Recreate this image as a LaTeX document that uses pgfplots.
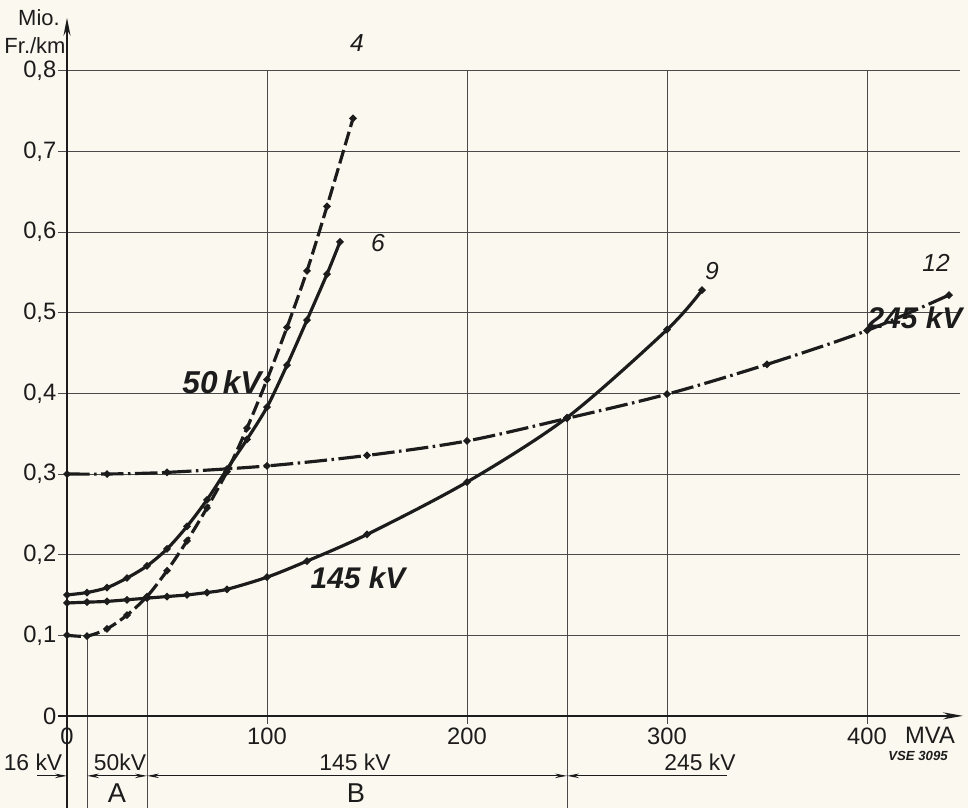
\documentclass[border=0pt]{standalone}
\usepackage{fontspec}
\setmainfont{Liberation Sans}
\usepackage{pgfplots}
\pgfplotsset{compat=1.18}
\usetikzlibrary{arrows.meta}
\definecolor{paper}{HTML}{FBF8EF}
\definecolor{ink}{HTML}{1C1C1C}
\definecolor{gridc}{HTML}{4A4A4A}

\begin{document}
\begin{tikzpicture}
\begin{axis}[
  x=0.04cm, y=16.12cm,
  xmin=-33.5, xmax=450.5, ymin=-0.114, ymax=0.888,
  axis lines=middle, axis line style={draw=none},
  major tick length=0pt,
  xtick={0,100,200,300,400}, xticklabels={0,100,200,300,400},
  ytick={0,0.1,0.2,0.3,0.4,0.5,0.6,0.7,0.8},
  yticklabels={0,{0,1},{0,2},{0,3},{0,4},{0,5},{0,6},{0,7},{0,8}},
  hide obscured x ticks=false, hide obscured y ticks=false,
  tick label style={font=\fontsize{13.5}{15}\selectfont, text=ink},
  xticklabel style={yshift=-1.1mm},
  yticklabel style={xshift=-0.9mm},
  axis background/.style={fill=paper},
  clip=false,
]
% grid
\draw[gridc, line width=0.55pt]
  (-4.5,0.1)--(446.5,0.1) (-4.5,0.2)--(446.5,0.2) (-4.5,0.3)--(446.5,0.3)
  (-4.5,0.4)--(446.5,0.4) (-4.5,0.5)--(446.5,0.5) (-4.5,0.6)--(446.5,0.6)
  (-4.5,0.7)--(446.5,0.7) (-4.5,0.8)--(446.5,0.8)
  (100,-0.01)--(100,0.8) (200,-0.01)--(200,0.8) (300,-0.01)--(300,0.8) (400,-0.01)--(400,0.8)
  (10,-0.114)--(10,0.1) (40,-0.114)--(40,0.144) (250,-0.114)--(250,0.369);
% axes
\draw[ink, line width=1.1pt, -{Stealth[length=3.6mm,width=1.4mm]}] (0,-0.114) -- (0,0.866);
\draw[ink, line width=1.1pt, -{Stealth[length=4mm,width=1.4mm]}] (-4.5,0) -- (448,0);

% 50 kV, curve 4
\addplot[ink, line width=1.8pt, smooth, dash pattern=on 2.8mm off 1mm,
  mark=*, mark size=1pt, mark options={solid}] coordinates {
  (0,0.100) (10,0.099) (20,0.108) (30,0.125) (40,0.148) (50,0.180) (60,0.217)
  (70,0.258) (80,0.303) (90,0.357) (100,0.417) (110,0.482) (120,0.552)
  (130,0.632) (143,0.741)};
% 50 kV, curve 6
\addplot[ink, line width=1.8pt, smooth, mark=*, mark size=1pt] coordinates {
  (0,0.150) (10,0.153) (20,0.159) (30,0.171) (40,0.186) (50,0.207) (60,0.235)
  (70,0.268) (80,0.306) (90,0.343) (100,0.383) (110,0.435) (120,0.491)
  (130,0.548) (136.5,0.588)};
% 145 kV, curve 9
\addplot[ink, line width=1.8pt, smooth, mark=*, mark size=1pt] coordinates {
  (0,0.140) (10,0.141) (20,0.142) (30,0.144) (40,0.146) (50,0.148) (60,0.150)
  (70,0.153) (80,0.157) (100,0.172) (120,0.192) (150,0.225) (200,0.290)
  (250,0.370) (300,0.479) (317.5,0.528)};
% 245 kV, curve 12
\addplot[ink, line width=1.8pt, smooth,
  dash pattern=on 4.5mm off 0.9mm on 0.5mm off 0.9mm,
  mark=*, mark size=1pt, mark options={solid}] coordinates {
  (0,0.300) (20,0.300) (50,0.302) (100,0.310) (150,0.323) (200,0.341)
  (250,0.369) (300,0.399) (350,0.436) (400,0.478) (441,0.522)};

% curve labels
\node[ink, font=\fontsize{18}{21}\selectfont\bfseries\itshape] at (77.5,0.414) {50\,kV};
\node[ink, font=\fontsize{17}{20}\selectfont\bfseries\itshape] at (145.5,0.171) {145 kV};
\node[ink, font=\fontsize{17}{20}\selectfont\bfseries\itshape] at (424,0.494) {245 kV};
\node[ink, font=\fontsize{14}{16}\selectfont\itshape] at (145,0.834) {4};
\node[ink, font=\fontsize{14}{16}\selectfont\itshape] at (155.5,0.587) {6};
\node[ink, font=\fontsize{14}{16}\selectfont\itshape] at (322.5,0.552) {9};
\node[ink, font=\fontsize{14}{16}\selectfont\itshape] at (434.5,0.562) {12};

% axis titles
\node[ink, font=\fontsize{12.5}{14}\selectfont] at (-14,0.866) {Mio.};
\node[ink, font=\fontsize{12.5}{14}\selectfont] at (-16,0.831) {Fr./km};
\node[ink, font=\fontsize{13.5}{15}\selectfont] at (431.5,-0.0236) {MVA};
\node[ink, font=\fontsize{7.5}{9}\selectfont\bfseries\itshape] at (425.5,-0.05) {VSE 3095};

% ranges below the axis
\draw[ink, line width=0.6pt, -{Stealth[length=2.4mm,width=0.9mm]}] (-15,-0.0744) -- (0,-0.0744);
\draw[ink, line width=0.6pt, {Stealth[length=2.4mm,width=0.9mm]}-{Stealth[length=2.4mm,width=0.9mm]}] (10,-0.0744) -- (40,-0.0744);
\draw[ink, line width=0.6pt, {Stealth[length=2.4mm,width=0.9mm]}-{Stealth[length=2.4mm,width=0.9mm]}] (40,-0.0744) -- (250,-0.0744);
\draw[ink, line width=0.6pt, {Stealth[length=2.4mm,width=0.9mm]}-] (250,-0.0744) -- (330,-0.0744);
\node[ink, font=\fontsize{13}{15}\selectfont] at (-17,-0.058) {16 kV};
\node[ink, font=\fontsize{13}{15}\selectfont] at (26.5,-0.058) {50kV};
\node[ink, font=\fontsize{13}{15}\selectfont] at (144,-0.058) {145 kV};
\node[ink, font=\fontsize{13}{15}\selectfont] at (316.5,-0.058) {245 kV};
\node[ink, font=\fontsize{15.5}{17}\selectfont, inner sep=1pt] at (25,-0.096) {A};
\node[ink, font=\fontsize{15.5}{17}\selectfont, inner sep=1pt] at (144.5,-0.096) {B};

\coordinate (BL) at (-33.5,-0.114);
\coordinate (TR) at (450.5,0.888);
\end{axis}
\pgfresetboundingbox
\path[use as bounding box] (BL) rectangle (TR);
\end{tikzpicture}
\end{document}
